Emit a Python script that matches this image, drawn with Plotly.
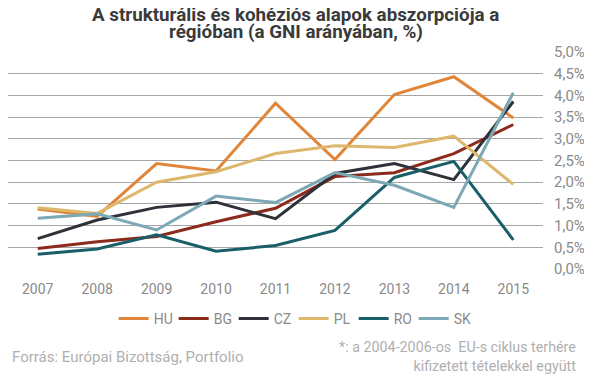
import plotly.graph_objects as go

years = ["2007", "2008", "2009", "2010", "2011", "2012", "2013", "2014", "2015"]
HU = [1.38, 1.21, 2.43, 2.26, 3.82, 2.52, 4.02, 4.43, 3.48]
BG = [0.47, 0.63, 0.75, 1.09, 1.40, 2.13, 2.22, 2.66, 3.33]
CZ = [0.70, 1.13, 1.42, 1.54, 1.16, 2.20, 2.43, 2.06, 3.86]
PL = [1.41, 1.28, 2.00, 2.24, 2.66, 2.84, 2.80, 3.06, 1.95]
RO = [0.34, 0.46, 0.79, 0.41, 0.54, 0.89, 2.11, 2.48, 0.67]
SK = [1.17, 1.27, 0.90, 1.68, 1.53, 2.22, 1.93, 1.42, 4.06]

y_ticks = [0, 0.5, 1.0, 1.5, 2.0, 2.5, 3.0, 3.5, 4.0, 4.5, 5.0]
y_labels = ["0,0%", "0,5%", "1,0%", "1,5%", "2,0%", "2,5%", "3,0%", "3,5%", "4,0%", "4,5%", "5,0%"]

series = [
    ("HU", HU, "#E0863A"),
    ("BG", BG, "#8C2A1C"),
    ("CZ", CZ, "#2E3138"),
    ("PL", PL, "#DDB86C"),
    ("RO", RO, "#195E69"),
    ("SK", SK, "#7DA8B5"),
]

FONT = "Roboto, sans-serif"

fig = go.Figure()
for name, vals, col in series:
    fig.add_trace(go.Scatter(x=years, y=vals, name=name, mode="lines",
                             line=dict(color=col, width=3)))

# page has an 8px body margin, so the figure is sized to fill the remaining window
fig.update_layout(
    template="none",
    width=584, height=367,
    margin=dict(l=0, r=49, t=44, b=106),
    paper_bgcolor="white", plot_bgcolor="white",
    font=dict(family=FONT, color="#8A8A8A", size=14),
    showlegend=True,
    legend=dict(orientation="h", x=0.534, xanchor="center", y=-0.230, yanchor="middle",
                font=dict(size=14, color="#8A8A8A"), entrywidth=15, entrywidthmode="pixels",
                bgcolor="rgba(0,0,0,0)"),
    xaxis=dict(type="category", range=[-0.5, 8.5], automargin=False, showgrid=False,
               zeroline=False, showline=False,
               ticks="", tickfont=dict(size=14, color="#8A8A8A"), ticklabelstandoff=10),
    yaxis=dict(side="right", range=[0, 5], automargin=False, tickvals=y_ticks, ticktext=y_labels,
               showgrid=True, gridcolor="#A6A6A6", gridwidth=1, zeroline=False,
               showline=False, ticks="", tickfont=dict(size=15, color="#8A8A8A"),
               ticklabelstandoff=10),
)

fig.add_annotation(text="<b>A strukturális és kohéziós alapok abszorpciója a</b>",
                   xref="paper", yref="paper", x=0.538, y=1.1705, showarrow=False,
                   xanchor="center", yanchor="middle",
                   font=dict(family=FONT, size=18.8, color="#3A3A3A"))
fig.add_annotation(text="<b>régióban (a GNI arányában, %)</b>",
                   xref="paper", yref="paper", x=0.538, y=1.092, showarrow=False,
                   xanchor="center", yanchor="middle",
                   font=dict(family=FONT, size=18.8, color="#3A3A3A"))
fig.add_annotation(text="Forrás: Európai Bizottság, Portfolio",
                   xref="paper", yref="paper", x=0.0037, y=-0.406, showarrow=False,
                   xanchor="left", yanchor="middle",
                   font=dict(family=FONT, size=15, color="#AFAFAF"))
fig.add_annotation(text="*: a 2004-2006-os&nbsp; EU-s ciklus terhére<br>kifizetett tételekkel együtt",
                   xref="paper", yref="paper", x=1.0654, y=-0.401, showarrow=False,
                   xanchor="right", yanchor="middle", align="right",
                   font=dict(family=FONT, size=14.3, color="#AFAFAF"))

fig.write_html("out.html")
